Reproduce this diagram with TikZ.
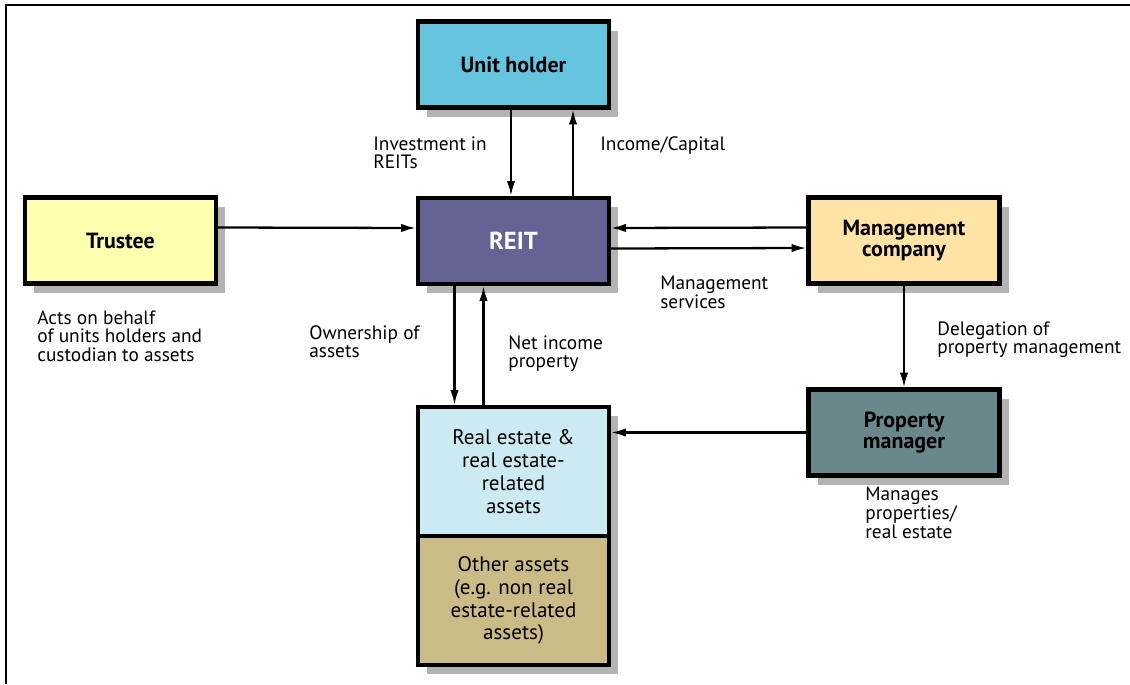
\documentclass[tikz,border=0pt]{standalone}
\usepackage{fontspec}
\setmainfont{PT Sans}
\usetikzlibrary{arrows.meta,shadows}

\definecolor{holdercyan}{HTML}{66C5DE}
\definecolor{reitpurple}{HTML}{656394}
\definecolor{trusteeyellow}{HTML}{FFFFB0}
\definecolor{mgmtorange}{HTML}{FFE4A6}
\definecolor{propmteal}{HTML}{6A878B}
\definecolor{estateblue}{HTML}{CCEAF2}
\definecolor{othertan}{HTML}{CBBB86}
\definecolor{shadowgray}{HTML}{B3B3B3}

\begin{document}
\begin{tikzpicture}

      \useasboundingbox (0,0) rectangle (22.6,-13.68);
      % frame
      \draw[line width=1.2pt] (0.12,-13.68) -- (0.12,-0.1) -- (22.6,-0.1);

      \begin{scope}[every node/.style={draw,line width=2.3pt,align=center,
          minimum width=3.82cm,minimum height=1.72cm,
          font=\bfseries\fontsize{12.5}{11.8}\selectfont,
          drop shadow={shadow xshift=0.18cm,shadow yshift=-0.18cm,
            fill=shadowgray,opacity=1}}]
        \node[fill=holdercyan]    (holder)  at (10.27,-1.29) {Unit holder};
        \node[fill=reitpurple,text=white,font=\bfseries\fontsize{14}{16}\selectfont]
                                  (reit)    at (10.27,-4.82) {REIT};
        \node[fill=trusteeyellow] (trustee) at (2.41,-4.81)  {Trustee};
        \node[fill=mgmtorange]    (mgmt)    at (18.08,-4.81) {Management\\company};
        \node[fill=propmteal]     (propm)   at (18.08,-8.65) {Property\\manager};
        \node[fill=estateblue,minimum height=2.58cm,font=\fontsize{12}{13}\selectfont]
                                  (estate)  at (10.27,-9.43)
                                  {Real estate \&\\real estate-\\related\\assets};
        \node[fill=othertan,minimum height=2.58cm,font=\fontsize{12}{13}\selectfont]
                                  (other)   at (10.27,-12.01)
                                  {Other assets\\(e.g. non real\\estate-related\\assets)};
      \end{scope}

      \begin{scope}[every node/.style={anchor=north west,inner sep=0pt,align=left,
          font=\fontsize{11}{10.6}\selectfont}]
        \node (invest)  at (7.46,-2.72)  {Investment in\\REITs};
        \node (income)  at (12.0,-2.72)  {Income/Capital};
        \node (mgmtsvc) at (13.2,-5.52)  {Management\\services};
        \node (deleg)   at (18.74,-6.42) {Delegation of\\property management};
        \node (owner)   at (6.18,-6.50)  {Ownership of\\assets};
        \node (netinc)  at (10.16,-6.70) {Net income\\property};
        \node (acts)    at (0.74,-6.20)  {Acts on behalf\\of units holders and\\custodian to assets};
        \node (manages) at (17.3,-9.74)  {Manages\\properties/\\real estate};
      \end{scope}

      \begin{scope}[every edge/.style={draw,line width=1.3pt,-{Latex[length=8.5pt,width=4.8pt]}}]
        \path ([xshift=-0.05cm]holder.south) edge ([xshift=-0.05cm]reit.north);
        \path ([xshift=1.19cm]reit.north)    edge ([xshift=1.19cm]holder.south);
        \path ([yshift=0.26cm]trustee.east)  edge ([yshift=0.26cm]reit.west);
        \path ([yshift=0.26cm]mgmt.west)     edge ([yshift=0.26cm]reit.east);
        \path ([yshift=-0.15cm]reit.east)    edge ([yshift=-0.15cm]mgmt.west);
        \path ([xshift=-1.18cm]reit.south)   edge ([xshift=-1.18cm]estate.north);
        \path ([xshift=-0.6cm]estate.north)  edge ([xshift=-0.6cm]reit.south);
        \path (mgmt.south)  edge (propm.north);
        \path (propm.west)  edge (propm.west -| estate.east);
      \end{scope}

    \end{tikzpicture}
\end{document}
